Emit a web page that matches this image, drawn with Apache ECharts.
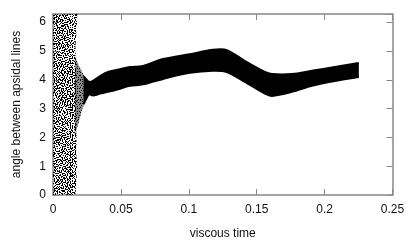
<!DOCTYPE html>
<html><head><meta charset="utf-8">
<script src="https://cdn.jsdelivr.net/npm/echarts@6/dist/echarts.min.js"></script>
<style>html,body{margin:0;padding:0;background:#fff}#c{width:409px;height:245px}</style>
</head><body><div id="c"></div>
<script>
// Main band of orbits (after the chaotic phase): x = viscous time, upper/lower envelope of the angle
const bandX     = [0.0225, 0.0243, 0.0265, 0.0294, 0.0346, 0.0405, 0.0493, 0.0567, 0.0662, 0.0810, 0.1008, 0.1178, 0.1280, 0.1413, 0.1560, 0.1612, 0.1759, 0.1906, 0.2075, 0.2252];
const bandUpper = [4.12, 4.03, 3.93, 3.96, 4.13, 4.27, 4.37, 4.44, 4.48, 4.72, 4.89, 5.04, 5.03, 4.65, 4.27, 4.20, 4.20, 4.31, 4.44, 4.58];
const bandLower = [3.15, 3.32, 3.49, 3.45, 3.52, 3.58, 3.69, 3.79, 3.84, 4.03, 4.24, 4.31, 4.27, 3.93, 3.52, 3.44, 3.58, 3.79, 3.96, 4.10];
// Funnel where the scattered phase converges into the band
const funnelX     = [0.0160, 0.0185, 0.0213, 0.0243, 0.0265];
const funnelUpper = [4.85, 4.55, 4.28, 4.03, 3.93];
const funnelLower = [2.10, 2.45, 2.95, 3.32, 3.49];
// Chaotic early phase: scattered points covering the full angle range, right edge per angle
const noiseY     = [0, 0.5, 1, 1.5, 2, 2.5, 3, 3.5, 4, 4.5, 5, 5.5, 6, 6.2832];
const noiseRight = [0.0165, 0.0172, 0.0178, 0.0170, 0.0174, 0.0168, 0.0172, 0.0170, 0.0168, 0.0172, 0.0163, 0.0170, 0.0176, 0.0179];
// Axes
const xTicks = [0, 0.05, 0.1, 0.15, 0.2, 0.25];
const yTicks = [0, 1, 2, 3, 4, 5, 6];
const yMax = 6.2832;

const PAT_A = [
"#....#...#..#....#..",
"..#.....#.....#.#...",
".....#.#..#.......#.",
"#.#.......#..#.#....",
"....#..#........#..#",
".#.....#..#.#.......",
"...#.#........#..#..",
"#.......#.#.#.......",
"..#..#.........#.#.#",
"......#..#.#........",
".#.#........#..#....",
"....#..#.#.......#.#",
"#.........#..#......",
"..#.#..#.......#.#..",
".......#..#.#.......",
"#..#.#.......#..#..#",
"..........#.#.......",
".#..#.#.........#.#.",
"....#....#..#.#.....",
"#.#....#..........#."
];
const PAT_B = [
".#....#..#...",
"....#......#.",
"#.#....#.....",
".....#....#.#",
"..#.......#..",
"#....#.#.....",
"...#.....#..#",
".#.....#.....",
"....#.#...#..",
"#.........#..",
"..#..#.#....."
];
const PAT_C = [
"..#....",
".....#.",
"#......",
"....#..",
".#.....",
"......#",
"...#...",
"#......",
".....#."
];
function makePattern(rows){
  const w=rows[0].length, h=rows.length;
  const c=document.createElement('canvas'); c.width=w; c.height=h;
  const g=c.getContext('2d'); g.fillStyle='#000';
  rows.forEach((r,j)=>{for(let i=0;i<r.length;i++) if(r[i]==='#') g.fillRect(i,j,1,1);});
  return c;
}
const patA = makePattern(PAT_A), patB = makePattern(PAT_B), patC = makePattern(PAT_C);

const chart = echarts.init(document.getElementById('c'), null, {renderer:'canvas'});
const font = 'Liberation Sans, Arial, sans-serif';
const axisCol = '#888';
function xAx(pos, show){
  return {type:'value', position:pos, min:0, max:0.25, interval:0.05,
    axisLine:{show:true, onZero:false, lineStyle:{color:axisCol, width:1.5}},
    axisTick:{show:true, inside:true, length:6, lineStyle:{color:axisCol}},
    axisLabel:{show:show, margin:9, color:'#111', fontSize:12, fontFamily:font,
      formatter:v=>String(xTicks.find(t=>Math.abs(t-v)<1e-9) ?? v)},
    splitLine:{show:false},
    name: show ? 'viscous time' : '', nameLocation:'middle', nameGap:33,
    nameTextStyle:{color:'#111', fontSize:12, fontFamily:font}};
}
function yAx(pos, show){
  return {type:'value', position:pos, min:0, max:yMax, interval:1,
    axisLine:{show:true, onZero:false, lineStyle:{color:axisCol, width:1.5}},
    axisTick:{show:true, inside:true, length:6, lineStyle:{color:axisCol}},
    axisLabel:{show:show, margin:7, color:'#111', fontSize:12, fontFamily:font,
      showMaxLabel:false,
      formatter:v=>String(yTicks.find(t=>Math.abs(t-v)<1e-9) ?? '')},
    splitLine:{show:false},
    name: show ? 'angle between apsidal lines' : '', nameLocation:'middle', nameGap:30, nameRotate:90,
    nameTextStyle:{color:'#111', fontSize:12, fontFamily:font}};
}
function noisePts(api){
  const pts=[api.coord([0,0]), api.coord([0,yMax])];
  for(let i=noiseY.length-1;i>=0;i--) pts.push(api.coord([noiseRight[i], noiseY[i]]));
  return pts;
}
function envPts(api, xs, up, lo){
  const pts=[];
  for(let i=0;i<xs.length;i++) pts.push(api.coord([xs[i], up[i]]));
  for(let i=xs.length-1;i>=0;i--) pts.push(api.coord([xs[i], lo[i]]));
  return pts;
}
function envLine(api, xs, vs){
  return xs.map((x,i)=>api.coord([x, vs[i]]));
}
chart.setOption({
  animation:false,
  grid:{left:53, top:14, width:339.5, height:183},
  xAxis:[xAx('bottom', true), xAx('top', false)],
  yAxis:[yAx('left', true), yAx('right', false)],
  series:[
    {type:'custom', xAxisIndex:0, yAxisIndex:0, data:[[0,0]], clip:true, z:2,
     renderItem:(params, api)=>{
       const up = envLine(api, bandX, bandUpper), lo = envLine(api, bandX, bandLower);
       const bandShape = up.concat(lo.slice().reverse());
       return {type:'group', children:[
         {type:'polygon', shape:{points:noisePts(api)}, style:{fill:{image:patA, repeat:'repeat'}}},
         {type:'polygon', shape:{points:noisePts(api)}, style:{fill:{image:patB, repeat:'repeat'}}},
         {type:'polygon', shape:{points:noisePts(api)}, style:{fill:{image:patC, repeat:'repeat'}}},
         {type:'polygon', shape:{points:envPts(api, funnelX, funnelUpper, funnelLower)}, style:{fill:'rgba(0,0,0,0.45)'}},
         {type:'polygon', shape:{points:envPts(api, funnelX, funnelUpper, funnelLower)}, style:{fill:{image:patA, repeat:'repeat'}}},
         {type:'polygon', shape:{points:bandShape}, style:{fill:'#000'}},
         {type:'polyline', shape:{points:up, smooth:0.3}, style:{stroke:'#000', lineWidth:2, fill:null}},
         {type:'polyline', shape:{points:lo, smooth:0.3}, style:{stroke:'#000', lineWidth:2, fill:null}}
       ]};
     }}
  ]
});
</script>
</body></html>
